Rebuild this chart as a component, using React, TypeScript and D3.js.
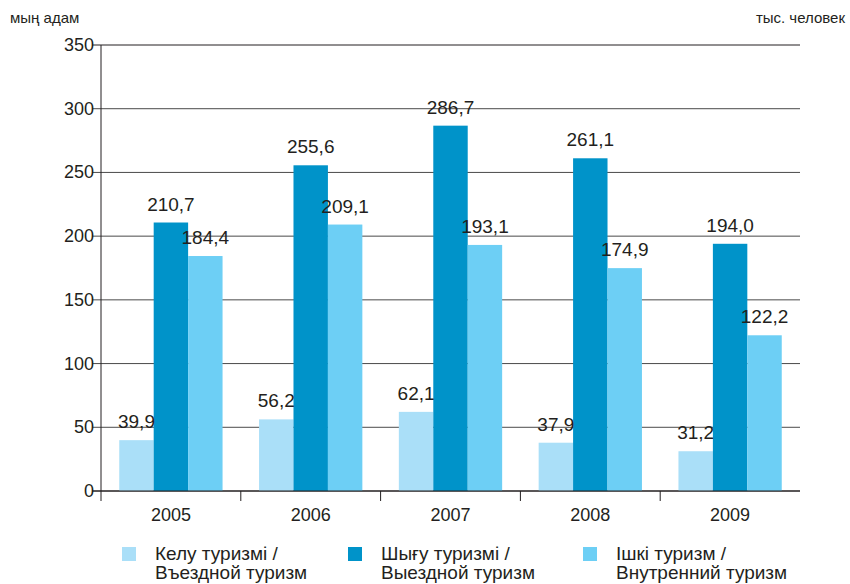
import React from "react";
import * as d3 from "d3";

// years on the x axis
const years = ["2005", "2006", "2007", "2008", "2009"];

// thousand people, per year
const inbound = [39.9, 56.2, 62.1, 37.9, 31.2];
const outbound = [210.7, 255.6, 286.7, 261.1, 194.0];
const domestic = [184.4, 209.1, 193.1, 174.9, 122.2];

const seriesKeys = ["inbound", "outbound", "domestic"];
const seriesLabels = [
  ["Келу туризмі /", "Въездной туризм"],
  ["Шығу туризмі /", "Выездной туризм"],
  ["Ішкі туризм /", "Внутренний туризм"],
];
const yTicks = [0, 50, 100, 150, 200, 250, 300, 350];

const colors = ["#aadff8", "#0093c9", "#6dcff5"];
const textColor = "#231f20";
const font = "'Liberation Sans', Arial, sans-serif";

function App() {
  const width = 850;
  const height = 584;
  const left = 101;
  const right = 800;
  const top = 45;
  const bottom = 491;

  const values = [inbound, outbound, domestic];

  const x0 = d3.scaleBand().domain(years).range([left, right]);
  const x1 = d3
    .scaleBand()
    .domain(seriesKeys)
    .range([0, x0.bandwidth()])
    .paddingOuter(0.53);
  const y = d3.scaleLinear().domain([0, 350]).range([bottom, top]);

  const fmt = (v: number) => v.toFixed(1).replace(".", ",");

  // legend column starts
  const legendX = [122, 348, 583];

  return (
    <svg
      width={width}
      height={height}
      style={{ position: "absolute", left: 0, top: 0, background: "#fff" }}
      fontFamily={font}
    >
      <text x={10} y={23} fontSize={15} fill={textColor}>
        мың адам
      </text>
      <text x={845} y={23} fontSize={15} fill={textColor} textAnchor="end">
        тыс. человек
      </text>

      {/* gridlines + y ticks */}
      {yTicks.map((t) => (
        <g key={t}>
          <line
            x1={left - 9}
            x2={right}
            y1={y(t)}
            y2={y(t)}
            stroke={t === 350 || t === 0 ? "#231f20" : "#4a4a4a"}
            strokeWidth={1}
          />
          <text
            x={left - 7}
            y={y(t) + 6}
            fontSize={18}
            textAnchor="end"
            fill={textColor}
          >
            {t}
          </text>
        </g>
      ))}

      {/* bars */}
      {years.map((yr, i) => (
        <g key={yr} transform={`translate(${x0(yr)},0)`}>
          {seriesKeys.map((k, s) => {
            const v = values[s][i];
            return (
              <rect
                key={k}
                x={x1(k)}
                y={y(v)}
                width={x1.bandwidth()}
                height={y(0) - y(v)}
                fill={colors[s]}
              />
            );
          })}
        </g>
      ))}

      {/* axis lines drawn over bars */}
      <line x1={left} x2={left} y1={top} y2={bottom + 10} stroke="#231f20" />
      <line x1={left - 9} x2={right} y1={bottom} y2={bottom} stroke="#231f20" />
      {years.slice(1).map((yr) => (
        <line
          key={yr}
          x1={x0(yr)}
          x2={x0(yr)}
          y1={bottom}
          y2={bottom + 10}
          stroke="#231f20"
        />
      ))}

      {/* value labels */}
      {years.map((yr, i) =>
        seriesKeys.map((k, s) => {
          const v = values[s][i];
          return (
            <text
              key={yr + k}
              x={(x0(yr) as number) + (x1(k) as number) + x1.bandwidth() / 2}
              y={y(v) - 12}
              fontSize={19}
              textAnchor="middle"
              fill={textColor}
            >
              {fmt(v)}
            </text>
          );
        })
      )}

      {/* x labels */}
      {years.map((yr) => (
        <text
          key={yr}
          x={(x0(yr) as number) + x0.bandwidth() / 2}
          y={521}
          fontSize={18}
          textAnchor="middle"
          fill={textColor}
        >
          {yr}
        </text>
      ))}

      {/* legend */}
      {seriesLabels.map((lines, s) => (
        <g key={s}>
          <rect x={legendX[s]} y={547} width={14} height={14} fill={colors[s]} />
          {lines.map((ln, j) => (
            <text
              key={j}
              x={legendX[s] + 33}
              y={560 + j * 19}
              fontSize={19}
              fill={textColor}
            >
              {ln}
            </text>
          ))}
        </g>
      ))}
    </svg>
  );
}

export default App;
